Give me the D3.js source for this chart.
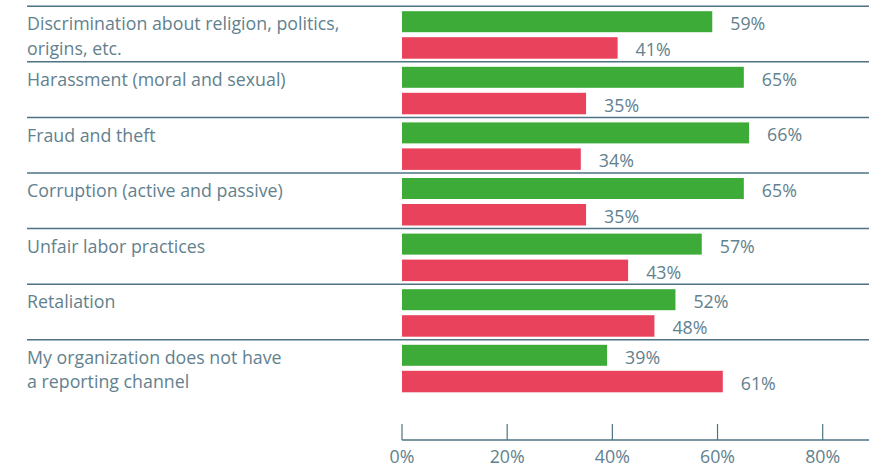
<!DOCTYPE html>
<html><head><meta charset="utf-8">
<script src="https://cdn.jsdelivr.net/npm/d3@7"></script>
<style>
body{margin:0;background:#fff;}
svg{display:block;font-family:"Open Sans",sans-serif;font-weight:400;}
</style></head>
<body><svg id="c" width="869" height="466"></svg>
<script>
const categories = [
  ["Discrimination about religion, politics,", "origins, etc."],
  ["Harassment (moral and sexual)"],
  ["Fraud and theft"],
  ["Corruption (active and passive)"],
  ["Unfair labor practices"],
  ["Retaliation"],
  ["My organization does not have", "a reporting channel"]
];
const greenValues = [59, 65, 66, 65, 57, 52, 39];
const redValues = [41, 35, 34, 35, 43, 48, 61];
const tickValues = [0, 20, 40, 60, 80];

const svg = d3.select("#c");
const textColor = "#62818e";
const lineColor = "#4d7384";
const green = "#3dab38", red = "#e8425c";
const fs = 17.8;

const x = d3.scaleLinear().domain([0, 80]).range([402, 822.7]);
const y = d3.scaleBand().domain(d3.range(categories.length)).range([6.2, 6.2 + 55.6 * categories.length]).padding(0);

const g = svg.selectAll("g.row").data(categories).join("g").attr("class", "row")
  .attr("transform", (d, i) => `translate(0,${y(i)})`);

g.append("line").attr("x1", 27).attr("x2", 869).attr("y1", 0).attr("y2", 0)
  .attr("stroke", lineColor).attr("stroke-width", 1.5);

g.each(function(d) {
  const t = d3.select(this).append("text").attr("x", 27).attr("fill", textColor)
    .attr("font-size", fs);
  d.forEach((line, k) => {
    t.append("tspan").attr("x", 27).attr("y", 24.2 + k * 24.2).text(line);
  });
});

g.append("rect").attr("x", x(0)).attr("y", 5).attr("height", 21)
  .attr("width", (d, i) => x(greenValues[i]) - x(0)).attr("fill", green);
g.append("rect").attr("x", x(0)).attr("y", 31).attr("height", 21.5)
  .attr("width", (d, i) => x(redValues[i]) - x(0)).attr("fill", red);

g.append("text").attr("x", (d, i) => x(greenValues[i]) + 18).attr("y", 24)
  .attr("fill", textColor).attr("font-size", fs).text((d, i) => greenValues[i] + "%");
g.append("text").attr("x", (d, i) => x(redValues[i]) + 18).attr("y", 50)
  .attr("fill", textColor).attr("font-size", fs).text((d, i) => redValues[i] + "%");

const axis = svg.append("g").attr("transform", "translate(0,440)");
axis.append("line").attr("x1", x(0)).attr("x2", 869).attr("y1", 0).attr("y2", 0)
  .attr("stroke", lineColor).attr("stroke-width", 1.5);
axis.selectAll("line.tick").data(tickValues).join("line").attr("class", "tick")
  .attr("x1", d => x(d)).attr("x2", d => x(d)).attr("y1", 0).attr("y2", -16)
  .attr("stroke", lineColor).attr("stroke-width", 1.2);
axis.selectAll("text").data(tickValues).join("text")
  .attr("x", d => x(d)).attr("y", 22.5).attr("text-anchor", "middle")
  .attr("fill", textColor).attr("font-size", fs).text(d => d + "%");
</script></body></html>
